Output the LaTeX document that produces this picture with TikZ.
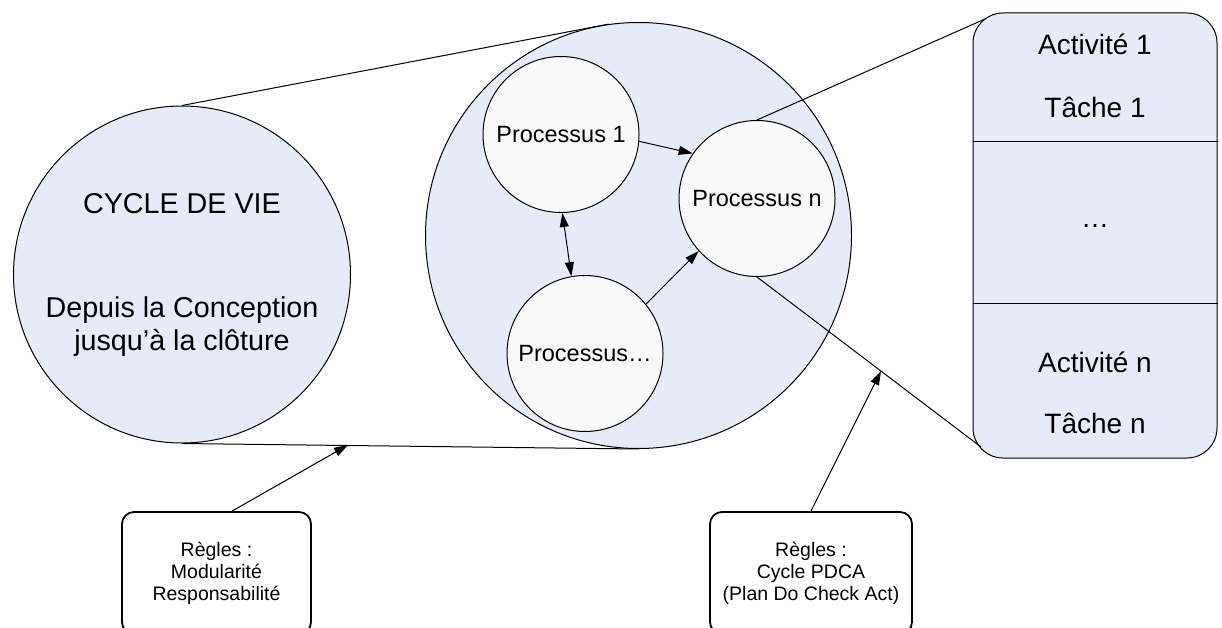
\documentclass[tikz,border=0pt]{standalone}
\usepackage{fontspec}
\setmainfont{Liberation Sans}
\usetikzlibrary{arrows.meta}
\definecolor{cycleblue}{RGB}{230,236,247}
\definecolor{procwhite}{RGB}{250,250,250}
\tikzset{big circle/.style={draw,circle,fill=cycleblue,line width=1pt,inner sep=0},
  proc circle/.style={draw,circle,fill=procwhite,line width=1pt,minimum size=156pt,inner sep=0,font=\fontsize{23.5}{27}\selectfont},
  rule box/.style={draw,rectangle,rounded corners=12pt,line width=1.8pt,align=center,minimum height=122pt,font=\fontsize{19.5}{22}\selectfont},
  task label/.style={anchor=base,font=\fontsize{28}{32}\selectfont},
  link/.style={line width=1pt},
  >={Triangle[length=14pt,width=9pt]}}

\begin{document}
\begin{tikzpicture}[x=1pt,y=-1pt]

            \useasboundingbox (0,0) rectangle (1222,628);
            \fill[white] (0,0) rectangle (1222,628);
            \clip (0,0) rectangle (1222,628);

            % cycle de vie et processus
            \node[big circle,minimum size=337pt,align=center,font=\fontsize{28.7}{33}\selectfont] (life) at (182,274.5)
              {CYCLE DE VIE\\[71pt]Depuis la Conception\\jusqu’à la clôture};
            \node[big circle,minimum size=426pt] (mid) at (638.5,235.5) {};
            \node[proc circle] (p1) at (561,134.5) {Processus 1};
            \node[proc circle] (pn) at (757,198.5) {Processus n};
            \node[proc circle] (pdots) at (585,353.5) {Processus…};

            % activités et tâches
            \node[draw,rectangle,rounded corners=30pt,fill=cycleblue,line width=1pt,
              minimum width=244pt,minimum height=445pt] (tasks) at (1095,235.5) {};
            \coordinate (cut1) at (0,142);
            \coordinate (cut2) at (0,303);
            \draw[link] (tasks.west |- cut1) -- (tasks.east |- cut1);
            \draw[link] (tasks.west |- cut2) -- (tasks.east |- cut2);
            \node[task label] (act1) at (1095,55) {Activité 1};
            \node[task label] (task1) at (1095,118) {Tâche 1};
            \node[task label] (dots) at (1095,228) {…};
            \node[task label] (actn) at (1095,372) {Activité n};
            \node[task label] (taskn) at (1095,433) {Tâche n};

            % règles
            \node[rule box,minimum width=189pt] (rules1) at (216.5,573) {Règles :\\Modularité\\Responsabilité};
            \node[rule box,minimum width=202pt] (rules2) at (811,573) {Règles :\\Cycle PDCA\\(Plan Do Check Act)};

            \coordinate (hit1) at (348,445);
            \coordinate (hit2) at (881,371);
            \coordinate (tasktop) at (985,19);
            \coordinate (taskbot) at (981,447);

            \draw[link] (life.north) -- (mid.98);
            \draw[link] (life.south) -- (mid.south);
            \draw[link] (pn.north) -- (tasktop);
            \draw[link] (pn.south) -- (taskbot);

            \draw[link,->] (p1.-5) -- (pn.145);
            \draw[link,<->] (p1.-89) -- (pdots.100);
            \draw[link,->] (pdots.39) -- (pn.222);
            \draw[link,->] ([xshift=15.5pt]rules1.north) -- (hit1);
            \draw[link,->] (rules2.north) -- (hit2);

\end{tikzpicture}
\end{document}
